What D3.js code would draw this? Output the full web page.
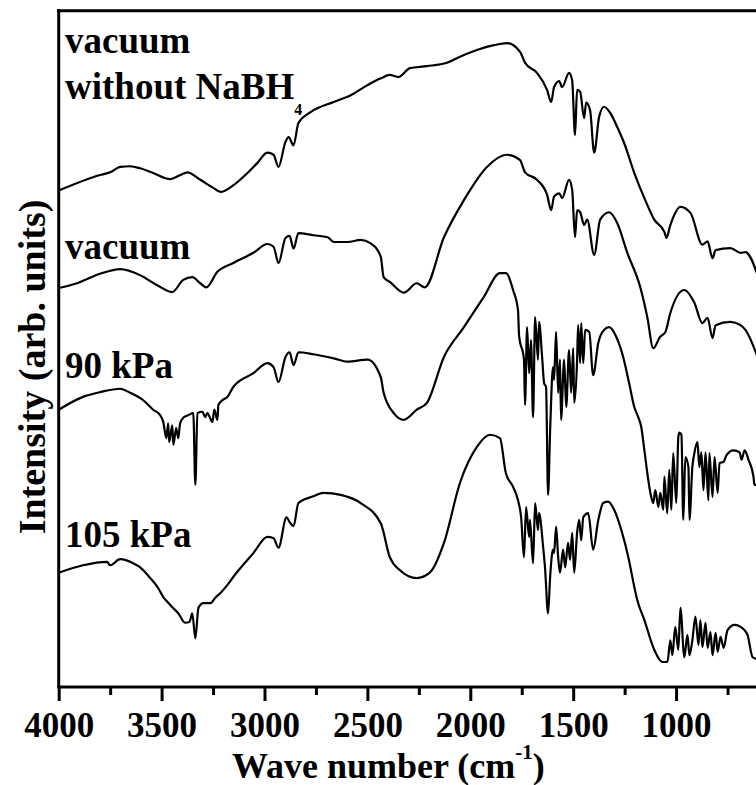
<!DOCTYPE html>
<html>
<head>
<meta charset="utf-8">
<script src="https://cdn.jsdelivr.net/npm/d3@7"></script>
<style>
  body { margin: 0; background: #fff; }
  svg text { font-family: "Liberation Serif", "Times New Roman", serif; font-weight: bold; fill: #000; }
  .axis path, .axis line { stroke: #000; stroke-width: 3; }
  .frame { stroke: #000; stroke-width: 3; }
  .spec { fill: none; stroke: #000; stroke-width: 2.2; stroke-linejoin: round; }
</style>
</head>
<body>
<div id="chart"></div>
<script>
// wave number axis
const WAVE_TICKS = [4000, 3500, 3000, 2500, 2000, 1500, 1000];
const WAVE_MINOR = [3750, 3250, 2750, 2250, 1750, 1250, 750];

// spectra: [wave number (cm-1), intensity (arb. units, offset)]
const SPEC_VAC_NOBH4 = [[4000,73.4],[3799,75.7],[3750,76.1],[3701,76.9],[3653,77.0],[3604,76.7],[3541,76.0],[3458,75.1],[3410,75.7],[3375,76.1],[3312,75.0],[3249,73.8],[3214,73.2],[3151,74.2],[3083,76.0],[3034,77.5],[2986,79.0],[2956,78.7],[2932,76.9],[2898,80.6],[2883,81.3],[2859,80.1],[2835,83.4],[2776,85.0],[2664,86.5],[2581,87.5],[2499,89.0],[2435,90.0],[2391,90.5],[2348,90.2],[2294,91.5],[2211,91.8],[2114,92.3],[2050,93.2],[1968,94.2],[1885,94.9],[1822,95.2],[1758,93.9],[1734,92.3],[1676,90.8],[1627,88.3],[1607,86.5],[1593,88.7],[1568,89.6],[1554,88.7],[1520,90.8],[1505,89.7],[1491,81.6],[1481,88.3],[1466,88.0],[1447,84.1],[1437,86.4],[1418,85.3],[1398,79.0],[1374,84.3],[1350,85.8],[1320,84.9],[1286,82.8],[1252,80.4],[1203,76.0],[1150,72.0],[1106,69.1],[1057,67.3],[1047,66.4],[1028,68.3],[979,71.0],[930,70.1],[872,65.4],[847,65.9],[823,63.4],[808,64.6],[736,64.9],[687,64.2],[663,64.3],[604,60.9]];

const SPEC_VAC = [[4000,59.0],[3911,59.7],[3799,61.1],[3701,61.8],[3604,60.9],[3521,59.4],[3448,58.4],[3395,60.2],[3351,60.6],[3312,59.7],[3283,59.1],[3229,61.4],[3151,62.7],[3054,64.2],[2986,65.5],[2956,65.1],[2932,62.7],[2898,66.4],[2878,66.7],[2859,64.8],[2835,67.1],[2762,66.8],[2693,66.5],[2664,65.8],[2596,65.8],[2533,66.1],[2484,65.6],[2435,63.6],[2421,60.6],[2391,59.9],[2323,58.3],[2260,59.7],[2221,59.1],[2128,66.5],[2031,72.0],[1919,76.9],[1822,78.7],[1758,77.9],[1734,76.1],[1676,75.0],[1627,72.8],[1607,70.5],[1593,72.5],[1568,73.0],[1554,72.3],[1520,75.0],[1505,73.5],[1491,66.5],[1481,70.5],[1466,70.2],[1447,68.3],[1432,69.1],[1398,63.9],[1369,69.1],[1325,70.2],[1286,68.6],[1237,64.2],[1174,59.1],[1140,54.7],[1111,50.1],[1077,51.8],[1052,52.5],[1028,55.3],[960,58.7],[911,56.8],[872,53.8],[847,54.6],[823,51.6],[808,53.5],[736,54.0],[687,53.5],[663,52.8],[604,48.8]];

const SPEC_90KPA = [[4000,41.0],[3882,42.9],[3799,43.6],[3701,44.1],[3653,43.5],[3589,42.4],[3541,41.0],[3507,40.2],[3492,39.2],[3477,36.8],[3468,39.0],[3463,36.2],[3448,38.7],[3443,35.8],[3429,38.3],[3419,36.8],[3410,39.0],[3395,39.8],[3370,40.2],[3346,40.5],[3336,29.9],[3326,40.5],[3302,40.7],[3288,39.9],[3278,40.5],[3253,39.2],[3244,41.0],[3229,39.5],[3224,41.7],[3205,42.4],[3180,42.9],[3151,44.4],[3054,46.4],[2986,47.9],[2956,47.3],[2932,45.1],[2898,48.8],[2878,49.5],[2859,47.6],[2835,49.5],[2762,49.2],[2664,48.6],[2596,48.1],[2499,48.4],[2435,45.8],[2421,43.5],[2372,40.5],[2323,39.5],[2260,41.0],[2211,42.0],[2128,48.8],[2031,53.2],[1934,57.7],[1856,61.2],[1827,61.2],[1792,58.7],[1768,55.7],[1763,52.0],[1739,48.4],[1734,41.7],[1724,53.2],[1714,46.4],[1705,51.3],[1695,39.9],[1685,54.7],[1671,48.4],[1666,54.0],[1651,48.8],[1641,44.9],[1632,44.4],[1622,28.4],[1612,38.0],[1598,47.3],[1593,45.4],[1583,52.5],[1573,43.5],[1564,48.4],[1559,39.5],[1544,48.4],[1534,41.4],[1520,49.8],[1510,43.5],[1500,50.1],[1495,42.0],[1481,48.4],[1476,53.5],[1466,47.9],[1461,53.8],[1451,47.9],[1442,52.8],[1422,52.5],[1403,46.1],[1378,50.9],[1350,52.8],[1325,53.2],[1291,51.8],[1257,48.8],[1228,44.9],[1203,41.4],[1184,39.9],[1169,38.4],[1154,35.0],[1135,30.6],[1125,28.7],[1111,27.2],[1101,29.1],[1086,26.6],[1077,28.7],[1062,26.2],[1057,31.1],[1043,25.7],[1033,32.1],[1023,26.2],[1014,34.6],[999,27.2],[989,37.0],[984,37.6],[974,37.3],[965,24.7],[955,34.0],[940,32.5],[935,24.7],[921,32.5],[911,34.6],[896,36.2],[887,32.5],[877,34.7],[867,29.1],[857,34.7],[843,27.6],[838,34.6],[823,28.1],[813,34.0],[798,28.7],[789,33.1],[769,33.3],[755,34.3],[721,35.0],[691,34.7],[682,33.6],[667,35.0],[648,33.6],[624,31.1],[619,29.9],[600,29.9]];

const SPEC_105KPA = [[4000,16.9],[3882,18.0],[3765,18.5],[3750,18.0],[3701,18.9],[3638,18.3],[3604,17.7],[3555,16.1],[3516,14.6],[3492,13.3],[3472,12.6],[3448,11.8],[3419,10.9],[3385,9.5],[3365,9.6],[3351,10.9],[3336,7.2],[3321,11.7],[3297,12.4],[3263,12.4],[3239,13.2],[3214,13.9],[3180,15.1],[3151,16.3],[3054,19.8],[2986,22.2],[2956,22.0],[2932,20.6],[2893,25.1],[2878,24.4],[2859,23.8],[2835,27.2],[2762,28.2],[2713,28.7],[2630,28.4],[2533,27.2],[2435,24.2],[2391,19.2],[2343,17.3],[2260,16.1],[2197,16.9],[2128,21.3],[2050,30.2],[1968,35.5],[1904,37.3],[1856,36.8],[1827,31.6],[1792,29.6],[1768,27.6],[1753,25.1],[1739,19.2],[1729,26.6],[1714,22.2],[1710,24.7],[1695,18.3],[1685,27.2],[1671,23.2],[1666,25.7],[1646,20.7],[1637,17.7],[1622,10.9],[1612,16.3],[1598,20.3],[1593,19.8],[1583,23.7],[1573,19.2],[1564,16.9],[1549,20.3],[1539,17.7],[1525,21.3],[1515,18.8],[1505,22.8],[1495,16.9],[1481,22.8],[1471,24.7],[1461,21.7],[1451,25.1],[1427,25.7],[1403,20.3],[1378,24.7],[1354,27.2],[1330,27.4],[1301,26.2],[1266,23.2],[1232,19.2],[1203,14.8],[1189,12.9],[1154,9.9],[1106,5.5],[1067,3.7],[1042,3.7],[1028,6.9],[1018,4.7],[1004,8.9],[989,5.5],[979,11.7],[960,4.4],[945,7.7],[935,4.7],[921,6.9],[906,10.4],[891,6.2],[882,9.9],[872,5.9],[857,9.5],[847,5.8],[833,8.1],[823,4.7],[808,8.0],[798,5.2],[784,7.4],[769,5.8],[750,8.4],[716,9.2],[667,8.4],[653,7.7],[628,4.4],[604,4.1]];

const SPECTRA = [SPEC_VAC_NOBH4, SPEC_VAC, SPEC_90KPA, SPEC_105KPA];

// curve labels: main text, subscript
const LABEL_TEXT = [["vacuum", ""], ["without NaBH", "4"], ["vacuum", ""], ["90 kPa", ""], ["105 kPa", ""]];

/* ---------------------------------- */
const LAYOUT = {
    W: 756,
    H: 785,
    X0: 58.7,
    X1: 758.4,
    Y_TOP: 10.7,
    Y_BOT: 687,
    FONT: 35,
    LABEL_FONT: 37,
    LABEL_X: 65,
    LABEL_Y: [53, 99, 259, 378, 547],
};

var xScale = d3.scaleLinear()
               .domain([4000, 600])
               .range([LAYOUT.X0, LAYOUT.X1]);
var yScale = d3.scaleLinear()
               .domain([0, 100])
               .range([LAYOUT.Y_BOT, LAYOUT.Y_TOP]);

var svgEl = d3.select("#chart").append("svg")
              .attr("width", LAYOUT.W)
              .attr("height", LAYOUT.H);

// spectra
var line = d3.line()
             .curve(d3.curveMonotoneX)
             .x((d) => xScale(d[0]))
             .y((d) => yScale(d[1]));
svgEl.append("g")
     .selectAll("path.spec")
     .data(SPECTRA)
     .enter()
     .append("path")
     .classed("spec", true)
     .attr("d", line);

// frame: left and top
svgEl.append("line").classed("frame", true)
     .attr("x1", LAYOUT.X0).attr("x2", LAYOUT.X0)
     .attr("y1", LAYOUT.Y_TOP - 1.5).attr("y2", LAYOUT.Y_BOT);
svgEl.append("line").classed("frame", true)
     .attr("x1", LAYOUT.X0 - 1.5).attr("x2", LAYOUT.W + 5)
     .attr("y1", LAYOUT.Y_TOP).attr("y2", LAYOUT.Y_TOP);

// bottom axis, major and minor ticks
svgEl.append("g")
     .classed("axis", true)
     .attr("transform", "translate(0," + LAYOUT.Y_BOT + ")")
     .call(d3.axisBottom(xScale).tickValues(WAVE_MINOR).tickSize(8).tickSizeOuter(0).tickFormat(""))
     .call((g) => g.select(".domain").remove());
var xAxisG = svgEl.append("g")
                  .classed("axis", true)
                  .attr("transform", "translate(0," + LAYOUT.Y_BOT + ")")
                  .call(d3.axisBottom(xScale).tickValues(WAVE_TICKS).tickSize(14).tickSizeOuter(0).tickPadding(12).tickFormat(d3.format("d")));
xAxisG.select(".domain").attr("d", "M" + (LAYOUT.X0 - 1.5) + ",0H" + (LAYOUT.W + 5));
xAxisG.selectAll("text")
      .attr("font-size", LAYOUT.FONT)
      .attr("font-family", null)
      .attr("dy", null)
      .attr("y", 50);

// axis titles
var xTitle = svgEl.append("text")
                  .attr("x", 232)
                  .attr("y", 778)
                  .attr("font-size", 36);
xTitle.append("tspan").text("Wave number (cm");
xTitle.append("tspan").attr("font-size", 21).attr("dy", -19).text("-1");
xTitle.append("tspan").attr("dy", 19).text(")");

svgEl.append("text")
     .attr("transform", "translate(45,367) rotate(-90)")
     .attr("text-anchor", "middle")
     .attr("font-size", 38)
     .text("Intensity (arb. units)");

// curve labels
var labelEls = svgEl.append("g")
                    .selectAll("text.lab")
                    .data(LABEL_TEXT)
                    .enter()
                    .append("text")
                    .classed("lab", true)
                    .attr("x", LAYOUT.LABEL_X)
                    .attr("y", (d, i) => LAYOUT.LABEL_Y[i])
                    .attr("font-size", LAYOUT.LABEL_FONT);
labelEls.append("tspan").text((d) => d[0]);
labelEls.filter((d) => d[1] !== "")
        .append("tspan")
        .attr("font-size", 16)
        .attr("dy", 16)
        .text((d) => d[1]);
</script>
</body>
</html>
